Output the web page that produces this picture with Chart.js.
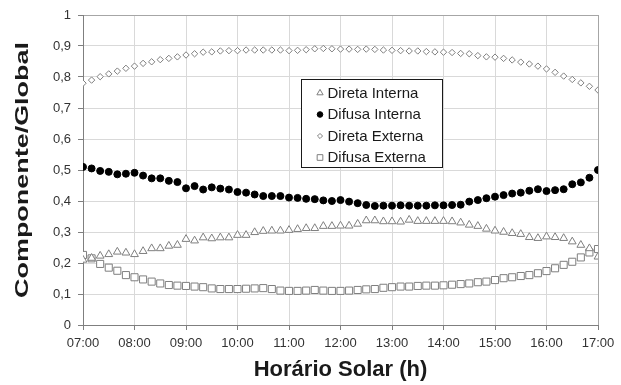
<!DOCTYPE html>
<html>
<head>
<meta charset="utf-8">
<script src="https://cdn.jsdelivr.net/npm/chart.js@4/dist/chart.umd.min.js"></script>
<style>
  html, body { margin: 0; padding: 0; background: #ffffff; }
  #wrap { width: 621px; height: 385px; }
</style>
</head>
<body>
<div id="wrap"><canvas id="grafico" width="621" height="385"></canvas></div>
<script>
// Horário solar de cada medição (intervalos de 10 min)
const horarios = [
  '07:00','07:10','07:20','07:30','07:40','07:50',
  '08:00','08:10','08:20','08:30','08:40','08:50',
  '09:00','09:10','09:20','09:30','09:40','09:50',
  '10:00','10:10','10:20','10:30','10:40','10:50',
  '11:00','11:10','11:20','11:30','11:40','11:50',
  '12:00','12:10','12:20','12:30','12:40','12:50',
  '13:00','13:10','13:20','13:30','13:40','13:50',
  '14:00','14:10','14:20','14:30','14:40','14:50',
  '15:00','15:10','15:20','15:30','15:40','15:50',
  '16:00','16:10','16:20','16:30','16:40','16:50',
  '17:00'
];

// Razão componente/global de cada série
const diretaInterna = [
  0.210,0.216,0.223,0.228,0.236,0.233,0.228,0.238,0.247,0.247,0.255,0.258,0.277,0.272,0.282,0.279,
  0.282,0.282,0.290,0.290,0.299,0.303,0.304,0.304,0.306,0.309,0.312,0.312,0.319,0.319,0.320,
  0.320,0.326,0.337,0.337,0.334,0.334,0.333,0.339,0.335,0.335,0.335,0.335,0.334,0.330,
  0.323,0.319,0.310,0.304,0.300,0.296,0.293,0.283,0.280,0.285,0.283,0.280,0.269,0.258,0.247,0.220
];
const difusaInterna = [
  0.510,0.505,0.497,0.494,0.486,0.488,0.491,0.482,0.473,0.473,0.465,0.461,0.441,0.448,0.437,
  0.444,0.440,0.437,0.429,0.427,0.421,0.416,0.416,0.416,0.411,0.410,0.407,0.406,0.402,0.400,
  0.403,0.398,0.393,0.387,0.384,0.385,0.385,0.386,0.385,0.385,0.385,0.386,0.386,0.387,0.388,
  0.398,0.403,0.409,0.414,0.419,0.424,0.427,0.433,0.438,0.432,0.435,0.438,0.454,0.460,0.475,0.500
];
const diretaExterna = [
  0.780,0.790,0.801,0.810,0.819,0.828,0.835,0.844,0.849,0.856,0.860,0.865,0.871,0.875,0.880,
  0.881,0.884,0.885,0.885,0.887,0.887,0.887,0.887,0.887,0.885,0.886,0.888,0.891,0.892,0.891,
  0.890,0.890,0.889,0.890,0.889,0.887,0.886,0.885,0.884,0.884,0.882,0.881,0.880,0.879,0.876,
  0.875,0.869,0.865,0.864,0.860,0.855,0.848,0.842,0.835,0.826,0.815,0.803,0.792,0.781,0.770,0.758
];
const difusaExterna = [
  0.226,0.215,0.197,0.185,0.175,0.161,0.154,0.147,0.140,0.134,0.129,0.127,0.126,0.124,0.122,0.118,
  0.116,0.116,0.116,0.117,0.118,0.119,0.116,0.111,0.110,0.110,0.111,0.113,0.111,0.110,0.110,
  0.111,0.113,0.115,0.116,0.120,0.122,0.124,0.124,0.126,0.127,0.127,0.128,0.130,0.132,
  0.134,0.138,0.140,0.145,0.151,0.154,0.158,0.161,0.167,0.174,0.183,0.194,0.204,0.218,0.234,0.245
];

// Rótulos dos eixos
const rotulosX = ['07:00','08:00','09:00','10:00','11:00','12:00','13:00','14:00','15:00','16:00','17:00'];
const rotulosY = ['0','0,1','0,2','0,3','0,4','0,5','0,6','0,7','0,8','0,9','1'];
const tituloEixoY = 'Componente/Global';

const FONTE = "'Liberation Sans', Arial, sans-serif";
const CINZA = '#7f7f7f';

// "HH:MM" -> horas decimais
function paraHoras(h) {
  const [hh, mm] = h.split(':').map(Number);
  return hh + mm / 60;
}
function pontos(valores) {
  return horarios.map((h, i) => ({ x: paraHoras(h), y: valores[i] }));
}

const series = [
  { label: 'Direta Interna', data: pontos(diretaInterna), pointStyle: 'triangle',
    pointRadius: 4.5, backgroundColor: '#ffffff', borderColor: CINZA },
  { label: 'Difusa Interna', data: pontos(difusaInterna), pointStyle: 'circle',
    pointRadius: 3.5, backgroundColor: '#000000', borderColor: '#000000' },
  { label: 'Direta Externa', data: pontos(diretaExterna), pointStyle: 'rectRot',
    pointRadius: 3.2, backgroundColor: '#ffffff', borderColor: CINZA },
  { label: 'Difusa Externa', data: pontos(difusaExterna), pointStyle: 'rect',
    pointRadius: 5, backgroundColor: '#ffffff', borderColor: CINZA }
];

// Legenda em caixa dentro da área do gráfico
const legendaNaArea = {
  id: 'legendaNaArea',
  afterDatasetsDraw(chart) {
    const ctx = chart.ctx;
    const x0 = 301.5, y0 = 79.5, w = 141, h = 88;
    ctx.save();
    ctx.fillStyle = '#ffffff';
    ctx.fillRect(x0, y0, w, h);
    ctx.strokeStyle = '#1a1a1a';
    ctx.lineWidth = 1;
    ctx.strokeRect(x0, y0, w, h);
    ctx.font = '15px ' + FONTE;
    ctx.textBaseline = 'middle';
    ctx.textAlign = 'left';
    chart.data.datasets.forEach((ds, k) => {
      const y = y0 + 13.5 + k * 21.5;
      ctx.fillStyle = ds.backgroundColor;
      ctx.strokeStyle = ds.borderColor;
      ctx.lineWidth = 1;
      Chart.helpers.drawPoint(ctx, {
        pointStyle: ds.pointStyle, rotation: 0,
        radius: ds.pointRadius * 0.8, borderWidth: 1
      }, x0 + 18.5, y);
      ctx.fillStyle = '#1a1a1a';
      ctx.fillText(ds.label, x0 + 26, y + 0.5);
    });
    ctx.restore();
  }
};

// Título do eixo Y, alongado no sentido do texto
const tituloVertical = {
  id: 'tituloVertical',
  afterDraw(chart) {
    const ctx = chart.ctx;
    const ca = chart.chartArea;
    ctx.save();
    ctx.font = 'bold 19px ' + FONTE;
    const largura = ctx.measureText(tituloEixoY).width;
    const comprimento = 256;
    ctx.translate(23, (ca.top + ca.bottom) / 2);
    ctx.rotate(-Math.PI / 2);
    ctx.scale(comprimento / largura, 1);
    ctx.textAlign = 'center';
    ctx.textBaseline = 'middle';
    ctx.fillStyle = '#1a1a1a';
    ctx.fillText(tituloEixoY, 0, 0);
    ctx.restore();
  }
};

new Chart(document.getElementById('grafico'), {
  type: 'scatter',
  data: { datasets: series.map(s => Object.assign({ borderWidth: 1, pointBorderWidth: 1, showLine: false }, s)) },
  options: {
    responsive: false,
    animation: false,
    devicePixelRatio: 1,
    layout: { padding: { left: 0, top: 15, right: 23, bottom: 0 } },
    plugins: { legend: { display: false }, tooltip: { enabled: false } },
    scales: {
      x: {
        type: 'linear', min: 7, max: 17,
        afterFit(s) { s.height = 60; },
        grid: {
          color: (c) => c.tick && c.tick.value === 17 ? '#a6a6a6' : '#d9d9d9',
          tickColor: CINZA, tickLength: 5, drawTicks: true
        },
        border: { color: CINZA, width: 1 },
        ticks: {
          stepSize: 1, padding: 6, color: '#333333', maxRotation: 0,
          font: { family: FONTE, size: 13 },
          callback: (v) => rotulosX[Math.round(v) - 7]
        },
        title: {
          display: true, text: 'Horário Solar (h)', color: '#1a1a1a',
          font: { family: FONTE, size: 22, weight: 'bold' },
          padding: { top: 0, bottom: 2 }
        }
      },
      y: {
        min: 0, max: 1,
        afterFit(s) { s.width = 83; },
        grid: {
          color: (c) => c.tick && c.tick.value === 1 ? '#a6a6a6' : '#d9d9d9',
          tickColor: CINZA, tickLength: 5
        },
        border: { color: CINZA, width: 1 },
        ticks: {
          stepSize: 0.1, padding: 7, color: '#333333',
          font: { family: FONTE, size: 13 },
          callback: (v) => rotulosY[Math.round(v * 10)]
        }
      }
    }
  },
  plugins: [legendaNaArea, tituloVertical]
});
</script>
</body>
</html>
